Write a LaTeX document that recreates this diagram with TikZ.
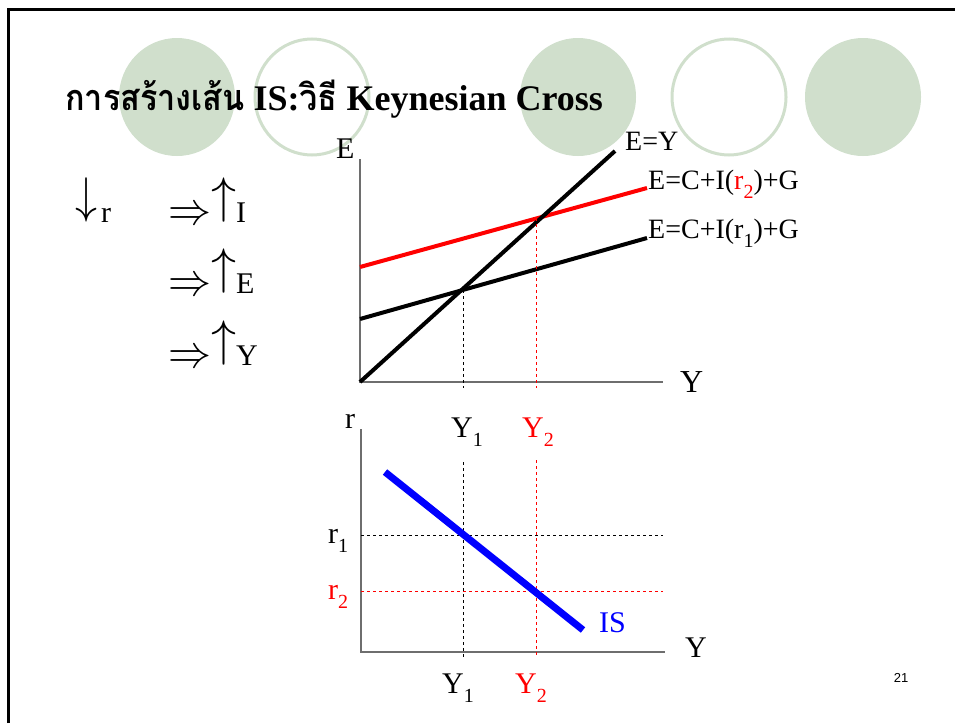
\documentclass[tikz,border=0pt]{standalone}
\usepackage{fontspec}
\setmainfont{Liberation Serif}
\setsansfont{Liberation Sans}
\newfontfamily\thaifont[Script=Thai]{Loma}

\definecolor{circgreen}{RGB}{208,223,204}
\definecolor{axisgray}{RGB}{110,110,110}

% sizes are given in pt, one pt per pixel of the slide
\newcommand{\fs}[1]{\fontsize{#1}{#1}\selectfont}
\newcommand{\lowsub}[1]{\raisebox{-9pt}{\fs{20}#1}}
\newcommand{\thai}[1]{\scalebox{0.9}[1]{\thaifont #1}}
\newcommand{\bigup}{\raisebox{9.7pt}{\scalebox{5}{\fs{10}$\uparrow$}}}
\newcommand{\bigdown}{\raisebox{9.7pt}{\scalebox{4.4}[5]{\fs{10}$\downarrow$}}}
\newcommand{\impl}{\raisebox{-2pt}{\scalebox{4.3}[4.6]{\fs{10}$\Rightarrow$}}}

\tikzset{
  axis/.style={axisgray, line width=1.5pt},
  curve/.style={line width=4pt},
  guide/.style={line width=0.9pt, dash pattern=on 3pt off 3pt},
  txt/.style={anchor=base west, inner sep=0pt, font=\fs{30}},
  eqtxt/.style={anchor=base west, inner sep=0pt, font=\fs{28}},
}

\begin{document}
\begin{tikzpicture}[x=1pt, y=-1pt]
    \useasboundingbox (0,0) rectangle (955,723);

    % slide frame and decoration
    \draw[line width=3pt] (8,723) -- (8,9) -- (955,9);
    \foreach \cx in {177,578,863}
        \fill[circgreen] (\cx,97) ellipse (58 and 59);
    \foreach \cx in {312,729}
        \draw[circgreen, line width=3pt, fill=white] (\cx,97) ellipse (57 and 58);

    \node[anchor=base west, inner sep=0pt, font=\fs{36}\bfseries] (title) at (65,110)
        {\thai{การสร้างเส้น} IS:\thai{วิธี} Keynesian Cross};

    % chain of effects
    \node[txt] (dr) at (75,222) {\bigdown\hspace{4pt}r};
    \node[txt] (ui) at (168,222) {\impl\bigup I};
    \node[txt] (ue) at (168,293) {\impl\bigup E};
    \node[txt] (uy) at (168,365) {\impl\bigup Y};

    % Keynesian cross
    \coordinate (O1) at (360,382);
    \draw[axis] (360,159) -- (O1) -- (663,382);
    \node[txt] (Elab) at (336,158) {E};
    \node[txt, font=\fs{32}] (Ylab) at (680,392) {Y};

    \draw[curve, red] (360,267) -- (647,188);
    \draw[curve] (360,319) -- (647,238);
    \draw[curve] (O1) -- (615,151);

    \node[eqtxt] (EY) at (625,150) {E=Y};
    \node[eqtxt] (E2) at (648,189) {E=C+I(\textcolor{red}{r\lowsub{2}})+G};
    \node[eqtxt] (E1) at (648,238) {E=C+I(r\lowsub{1})+G};

    \draw[guide] (463,290) -- (463,388);
    \draw[guide, red] (536,218) -- (536,388);

    \node[txt] (Y1a) at (451,437) {Y\lowsub{1}};
    \node[txt, red] (Y2a) at (522,437) {Y\lowsub{2}};

    % IS curve
    \coordinate (O2) at (361,652);
    \draw[axis] (361,429) -- (O2) -- (665,652);
    \node[txt] (rlab) at (345,428) {r};
    \node[txt] (Ylab2) at (685,657) {Y};

    \draw[guide] (361,535) -- (663,535);
    \draw[guide, red] (361,591) -- (663,591);
    \draw[guide] (463,462) -- (463,657);
    \draw[guide, red] (536,460) -- (536,657);

    \draw[blue, line width=7pt] (385,472) -- (583,630);
    \node[txt, blue] (IS) at (599,632) {IS};

    \node[txt] (r1) at (328,543) {r\lowsub{1}};
    \node[txt, red] (r2) at (328,599) {r\lowsub{2}};
    \node[txt] (Y1b) at (442,693) {Y\lowsub{1}};
    \node[txt, red] (Y2b) at (515,693) {Y\lowsub{2}};

    \node[font=\sffamily\fs{13}] (page) at (901,678) {21};
\end{tikzpicture}
\end{document}
